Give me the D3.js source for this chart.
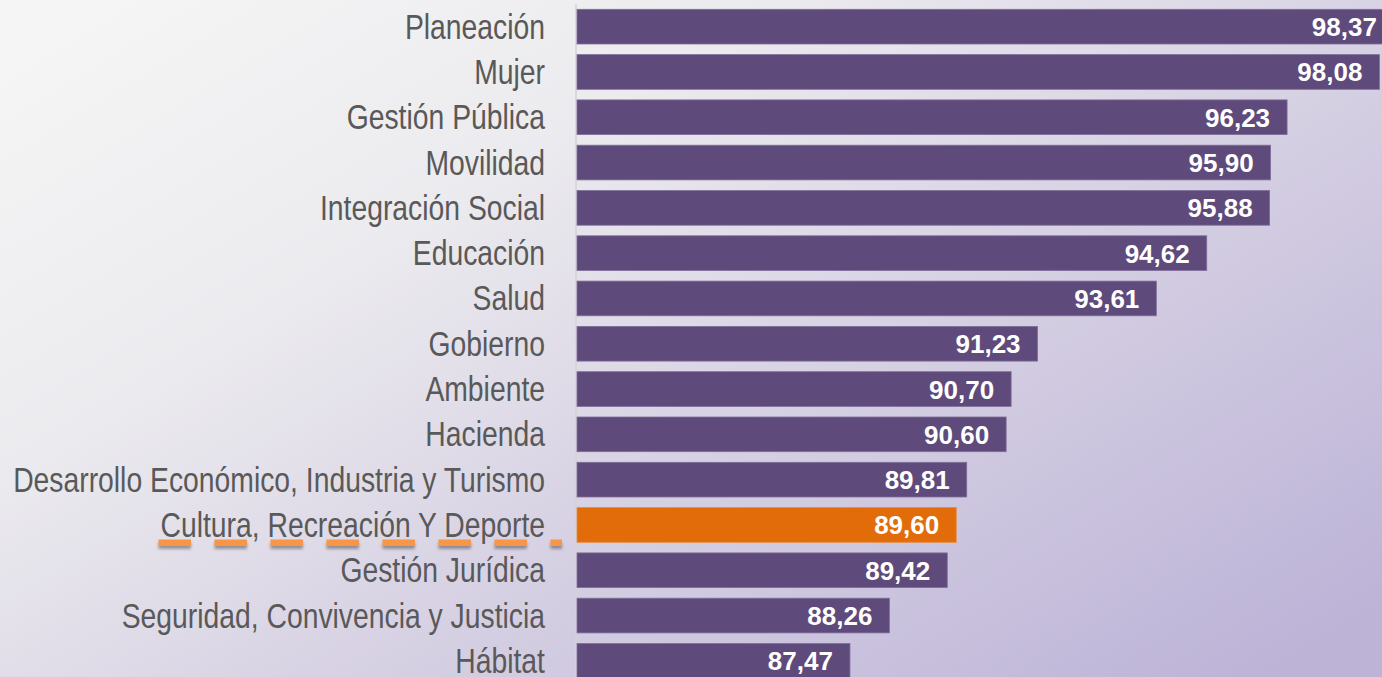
<!DOCTYPE html>
<html>
<head>
<meta charset="utf-8">
<script src="https://cdn.jsdelivr.net/npm/d3@7"></script>
<style>
  html, body { margin: 0; padding: 0; overflow: hidden; }
  svg { display: block; }
</style>
</head>
<body>
<div id="chart"></div>
<script>
// sectores y puntaje (orden de arriba hacia abajo)
const sectores = ["Planeación", "Mujer", "Gestión Pública", "Movilidad", "Integración Social",
    "Educación", "Salud", "Gobierno", "Ambiente", "Hacienda",
    "Desarrollo Económico, Industria y Turismo", "Cultura, Recreación Y Deporte",
    "Gestión Jurídica", "Seguridad, Convivencia y Justicia", "Hábitat"];
const puntajes = [98.37, 98.08, 96.23, 95.90, 95.88, 94.62, 93.61, 91.23, 90.70, 90.60,
    89.81, 89.60, 89.42, 88.26, 87.47];
const destacado = "Cultura, Recreación Y Deporte";

let width = 1382
let height = 677

const data = sectores.map((s, i) => ({ sector: s, valor: puntajes[i] }));

const svg = d3.select("#chart")
    .append("svg")
    .attr("width", width)
    .attr("height", height);

// fondo degradado gris -> lila
const defs = svg.append("defs");
const grad = defs.append("linearGradient")
    .attr("id", "fondo")
    .attr("x1", "0").attr("y1", "0.1")
    .attr("x2", "1").attr("y2", "0.9");
grad.append("stop").attr("offset", "0").attr("stop-color", "#f5f5f5");
grad.append("stop").attr("offset", "0.3").attr("stop-color", "#ebeaee");
grad.append("stop").attr("offset", "0.6").attr("stop-color", "#d6d0e3");
grad.append("stop").attr("offset", "1").attr("stop-color", "#bcb3d7");

// sombra del subrayado (en coordenadas de usuario, la linea no tiene alto)
const sombra = defs.append("filter").attr("id", "sombra")
    .attr("filterUnits", "userSpaceOnUse")
    .attr("x", 0).attr("y", 0).attr("width", width).attr("height", height);
sombra.append("feDropShadow")
    .attr("dx", 0).attr("dy", 3).attr("stdDeviation", 1.5)
    .attr("flood-color", "#000").attr("flood-opacity", 0.35);

svg.append("rect")
    .attr("width", width)
    .attr("height", height)
    .attr("fill", "url(#fondo)");

// escalas
const x = d3.scaleLinear()
    .domain([82, 100])
    .range([577, 577 + 18 * 49.9]);

const y = d3.scaleBand()
    .domain(sectores)
    .range([4, 4 + sectores.length * 45.3])
    .paddingInner(0.234)
    .paddingOuter(0.117);

// eje vertical
svg.append("line")
    .attr("x1", x(82) - 1).attr("x2", x(82) - 1)
    .attr("y1", 4).attr("y2", height)
    .attr("stroke", "#d4d2d8")
    .attr("stroke-width", 1.5);

// barras
svg.selectAll(".bar")
    .data(data)
    .enter()
    .append("rect")
    .attr("class", "bar")
    .attr("x", x(82))
    .attr("y", d => y(d.sector))
    .attr("width", d => x(d.valor) - x(82))
    .attr("height", y.bandwidth())
    .attr("fill", d => d.sector == destacado ? "#e36c0a" : "#5e4a7b")
    .attr("stroke", d => d.sector == destacado ? "#e98a3c" : "#7f6f99")
    .attr("stroke-width", 0.8);

// valores
const fmt = v => d3.format(".2f")(v).replace(".", ",");
svg.selectAll(".valor")
    .data(data)
    .enter()
    .append("text")
    .attr("class", "valor")
    .attr("x", d => x(d.valor) - 17)
    .attr("y", d => y(d.sector) + y.bandwidth() / 2 + 9.5)
    .attr("text-anchor", "end")
    .style("font-family", "'Liberation Sans', Arial, sans-serif")
    .style("font-weight", "bold")
    .style("font-size", "26px")
    .attr("fill", "#ffffff")
    .text(d => fmt(d.valor));

// etiquetas de sector (fuente angosta)
const etiquetas = svg.append("g");
const lbl = etiquetas.selectAll(".sector")
    .data(data)
    .enter()
    .append("text")
    .attr("class", "sector")
    .attr("text-anchor", "end")
    .style("font-family", "'Liberation Sans Narrow', 'Arial Narrow', 'Liberation Sans', Arial, sans-serif")
    .style("font-size", "35px")
    .attr("fill", "#595959")
    .text(d => d.sector);

// ajustar el ancho a la etiqueta mas larga del original (~532 px)
let w = lbl.filter(d => d.sector == sectores[10]).node().getComputedTextLength();
let sx = 532 / w;
lbl.attr("transform", d => "translate(545," + (y(d.sector) + y.bandwidth() / 2 + 12) + ") scale(" + sx + ",1)");

// subrayado naranja punteado bajo el sector destacado
const nodoDest = lbl.filter(d => d.sector == destacado).node();
const anchoDest = nodoDest.getComputedTextLength() * sx;
svg.append("line")
    .attr("x1", 545 - anchoDest - 2)
    .attr("x2", x(82) - 15)
    .attr("y1", y(destacado) + y.bandwidth() + 0.5)
    .attr("y2", y(destacado) + y.bandwidth() + 0.5)
    .attr("stroke", "#f79646")
    .attr("stroke-width", 6.5)
    .attr("stroke-dasharray", "32.5 23.5")
    .attr("filter", "url(#sombra)");
</script>
</body>
</html>
